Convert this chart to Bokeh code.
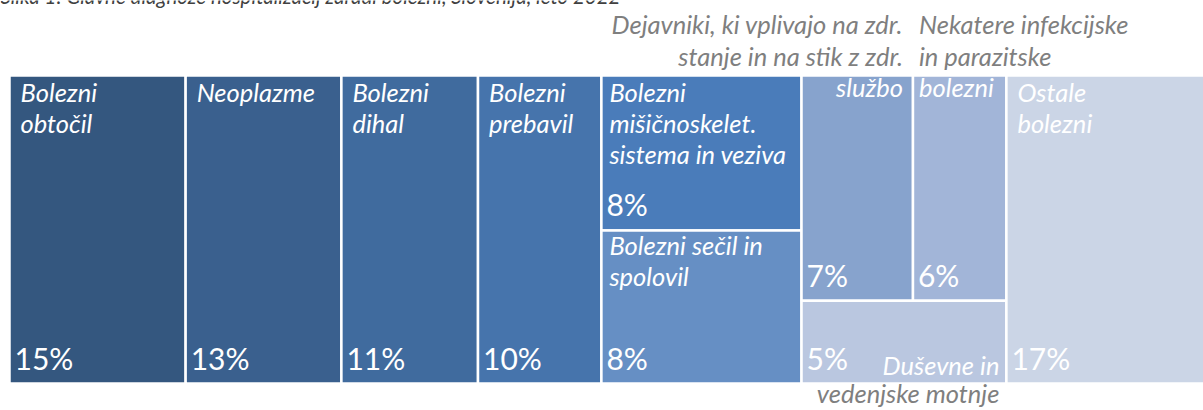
from bokeh.plotting import figure
from bokeh.models import Range1d, ColumnDataSource
from bokeh.embed import file_html
from bokeh.resources import INLINE
from bokeh.core.properties import value

# ---------------- data ----------------
title_text = "Slika 1: Glavne diagnoze hospitalizacij zaradi bolezni, Slovenija, leto 2022"
categories = [
    "Bolezni\nobtočil",
    "Neoplazme",
    "Bolezni\ndihal",
    "Bolezni\nprebavil",
    "Bolezni\nmišičnoskelet.\nsistema in veziva",
    "Bolezni sečil in\nspolovil",
    "Dejavniki, ki vplivajo na zdr.\nstanje in na stik z zdr.\nslužbo",
    "Nekatere infekcijske\nin parazitske\nbolezni",
    "Duševne in\nvedenjske motnje",
    "Ostale\nbolezni",
]
shares = [14.7, 13.0, 11.4, 10.3, 8.4, 8.3, 6.8, 5.7, 4.6, 17.0]

# ---------------- style / layout ----------------
palette = ["#34577F", "#3A608E", "#406B9E", "#4674AC", "#4A7CBA",
           "#668FC4", "#87A3CD", "#A2B5D8", "#BAC7E0", "#CBD5E6"]
# treemap structure: columns -> rows (stacked) -> cells (side by side)
structure = [[[0]], [[1]], [[2]], [[3]], [[4], [5]], [[6, 7], [8]], [[9]]]

W_FIG, H_FIG = 1203, 410
total = sum(shares)
PXX = 1200.6 / total      # px per x unit
PXY = 308 / 100.0         # px per y unit
MAP_LEFT = 9              # px of data x=0 from figure left
TOP_PX, BOT_PX = 75, 383  # px of y=100 / y=0 from figure top

x0 = -MAP_LEFT / PXX
x1 = x0 + W_FIG / PXX
y1 = 100 + TOP_PX / PXY
y0 = -(H_FIG - BOT_PX) / PXY

def ypx(py):
    """figure pixel row -> data y"""
    return 100 - (py - TOP_PX) / PXY

cells = {}
xc = 0.0
for col in structure:
    col_sum = sum(shares[i] for row in col for i in row)
    ytop = 100.0
    for row in col:
        row_sum = sum(shares[i] for i in row)
        h = row_sum / col_sum * 100.0
        cx = xc
        for i in row:
            w = shares[i] / row_sum * col_sum
            cells[i] = (cx, cx + w, ytop - h, ytop)
            cx += w
        ytop -= h
    xc += col_sum

idx = list(range(len(shares)))
rects = ColumnDataSource(dict(
    left=[cells[i][0] for i in idx], right=[cells[i][1] for i in idx],
    bottom=[cells[i][2] for i in idx], top=[cells[i][3] for i in idx],
    color=palette,
))

p = figure(width=W_FIG, height=H_FIG, x_range=Range1d(x0, x1), y_range=Range1d(y0, y1),
           x_axis_type=None, y_axis_type=None, toolbar_location=None,
           output_backend="svg", min_border=0, outline_line_color=None,
           background_fill_color="white", border_fill_color="white")
p.grid.visible = False

p.quad(left="left", right="right", bottom="bottom", top="top", source=rects,
       fill_color="color", line_color="white", line_width=2.5)

FONT = value("Lato")
LBL_SIZE = 25.5
PCT_SIZE = 30
SHIFT = 0.4   # baseline correction (em)
LINE = 31
# label placement per cell: (align, px offset from edge, mode, px offset, line spacing)
place = {i: ("left", 11, "top", 27, LINE) for i in idx}
place[4] = ("left", 8, "top", 27, LINE)
place[5] = ("left", 8, "top", 25, LINE)
place[6] = ("right", 10, "lasttop", 22, 31.5)
place[7] = ("left", 6, "lasttop", 22, 31.5)
place[8] = ("right", 7, "bottom", -8, 28)

src = {"left": dict(x=[], y=[], t=[], c=[]), "right": dict(x=[], y=[], t=[], c=[])}
for i in idx:
    l, r, b, t = cells[i]
    top_px = TOP_PX + (100 - t) * PXY
    bot_px = TOP_PX + (100 - b) * PXY
    align, dx, mode, dy, sp = place[i]
    lines = categories[i].split("\n")
    n = len(lines)
    for k, line in enumerate(lines):
        if mode == "top":
            base = top_px + dy + k * sp
        elif mode == "lasttop":
            base = top_px + dy - (n - 1 - k) * sp
        else:
            base = bot_px + dy + k * sp
        inside = (top_px + 5 < base < bot_px)
        xpos = l + dx / PXX if align == "left" else r - dx / PXX
        s = src[align]
        s["x"].append(xpos)
        s["y"].append(ypx(base - SHIFT * LBL_SIZE))
        s["t"].append(line)
        s["c"].append("white" if inside else "#7F7F7F")

for align in ("left", "right"):
    p.text(x="x", y="y", text="t", text_color="c", source=ColumnDataSource(src[align]),
           text_font=FONT, text_font_style="italic", text_font_size=f"{LBL_SIZE}px",
           text_align=align, text_baseline="alphabetic")

pct = ColumnDataSource(dict(
    x=[cells[i][0] + 5 / PXX for i in idx],
    y=[ypx(TOP_PX + (100 - cells[i][2]) * PXY - 14 - SHIFT * PCT_SIZE) for i in idx],
    t=[f"{round(v)}%" for v in shares],
))
p.text(x="x", y="y", text="t", source=pct, text_color="white", text_font=FONT,
       text_font_size=f"{PCT_SIZE}px", text_align="left", text_baseline="alphabetic")

TITLE_SIZE = 20.5
p.text(x=[x0], y=[ypx(4 - SHIFT * TITLE_SIZE)], text=[title_text], text_color="#404040",
       text_font=FONT, text_font_style="italic", text_font_size=f"{TITLE_SIZE}px",
       text_align="left", text_baseline="alphabetic")

open("out.html", "w").write(file_html(p, INLINE))
